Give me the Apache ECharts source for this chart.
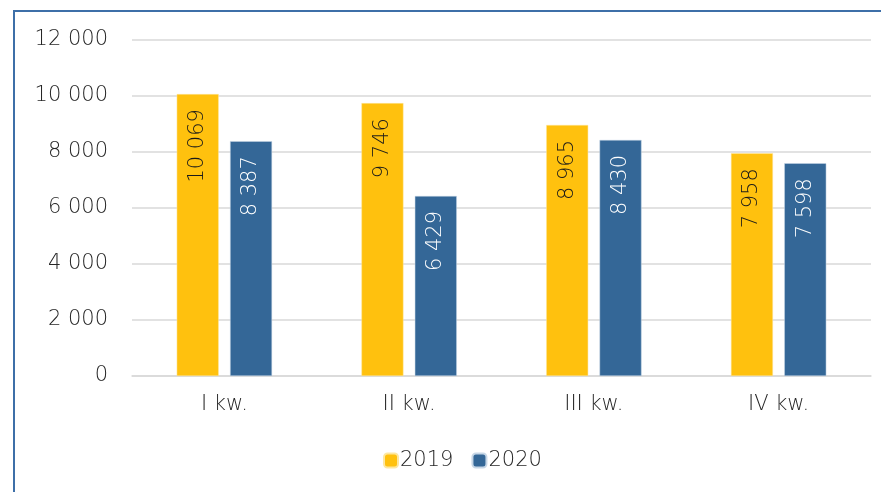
<!DOCTYPE html>
<html>
<head>
<meta charset="utf-8">
<script src="https://cdn.jsdelivr.net/npm/echarts@6/dist/echarts.min.js"></script>
<style>
  html, body { margin: 0; padding: 0; background: #fff; }
  #frame {
    position: absolute; left: 13px; top: 10px; width: 900px; height: 500px;
    border-left: 2px solid #3d6fa8; border-top: 2px solid #3d6fa8;
  }
  #chart { position: absolute; left: 0; top: 0; width: 881px; height: 492px; }
</style>
</head>
<body>
<div id="frame"></div>
<div id="chart"></div>
<script>
var categories = ['I kw.', 'II kw.', 'III kw.', 'IV kw.']
var values2019 = [10069, 9746, 8965, 7958]
var values2020 = [8387, 6429, 8430, 7598]

function fmt (v) {
  return String(v).replace(/\B(?=(\d{3})+(?!\d))/g, ' ')
}

var chart = echarts.init(document.getElementById('chart'))
var font = '"DejaVu Sans", sans-serif'

var option = {
  animation: false,
  textStyle: { fontFamily: font },
  grid: { left: 132, right: 10, top: 40, bottom: 116 },
  legend: {
    bottom: 16,
    left: 378,
    itemWidth: 14,
    itemHeight: 14,
    itemGap: 18,
    textStyle: { fontSize: 21, color: '#262626', fontWeight: 200, fontFamily: font, padding: [0, 0, 0, -3] },
    data: ['2019', '2020']
  },
  xAxis: {
    type: 'category',
    data: categories,
    axisTick: { show: false },
    axisLine: { lineStyle: { color: '#d9d9d9', width: 1.5 } },
    axisLabel: { fontSize: 21, color: '#262626', fontWeight: 200, margin: 18 }
  },
  yAxis: {
    type: 'value',
    min: 0,
    max: 12000,
    interval: 2000,
    axisLine: { show: false },
    axisTick: { show: false },
    splitLine: { lineStyle: { color: '#d9d9d9', width: 1.5 } },
    axisLabel: { fontSize: 21, color: '#262626', fontWeight: 200, margin: 24, formatter: fmt }
  },
  series: [
    {
      name: '2019',
      type: 'bar',
      data: values2019,
      barWidth: 42,
      barGap: '27%',
      itemStyle: { color: '#ffc10e', borderColor: '#fde7a0', borderWidth: 0.5 },
      label: {
        show: true,
        position: 'insideTop',
        rotate: 90,
        align: 'right',
        verticalAlign: 'middle',
        distance: 15,
        fontSize: 21,
        fontWeight: 200,
        color: '#1a1a1a',
        formatter: function (p) { return fmt(p.value) }
      }
    },
    {
      name: '2020',
      type: 'bar',
      data: values2020,
      barWidth: 42,
      itemStyle: { color: '#346797', borderColor: '#c6d6e6', borderWidth: 0.5 },
      label: {
        show: true,
        position: 'insideTop',
        rotate: 90,
        align: 'right',
        verticalAlign: 'middle',
        distance: 15,
        fontSize: 21,
        fontWeight: 200,
        color: '#ffffff',
        formatter: function (p) { return fmt(p.value) }
      }
    }
  ]
}

chart.setOption(option)
</script>
</body>
</html>
